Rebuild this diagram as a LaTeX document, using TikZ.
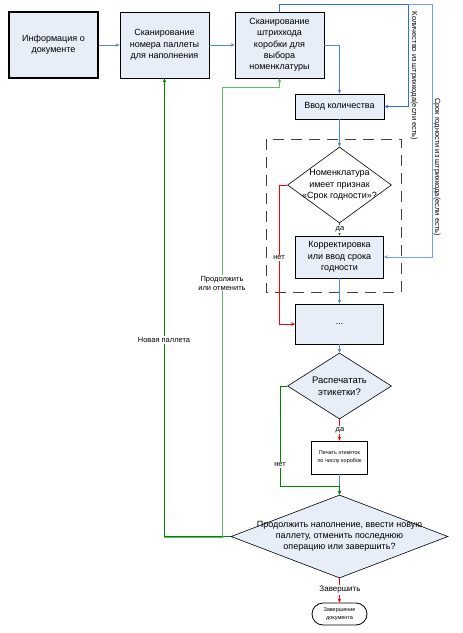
\documentclass[tikz,border=0pt]{standalone}
\usepackage{fontspec}
\setmainfont{Liberation Sans}
\usepackage{tikz}
\usetikzlibrary{arrows.meta, shapes.geometric, positioning}
\definecolor{boxfill}{RGB}{232,238,247}
\definecolor{linkblue}{RGB}{84,134,200}
\definecolor{qtyblue}{RGB}{51,102,255}
\definecolor{dateblue}{RGB}{110,160,255}
\definecolor{darkgreen}{RGB}{0,130,0}
\definecolor{lightgreen}{RGB}{100,185,100}
\newcommand{\boxfont}{\fontsize{9}{11.3}\selectfont}
\newcommand{\lblfont}{\fontsize{7.5}{9}\selectfont}
\newcommand{\tinyboxfont}{\fontsize{5.5}{7.8}\selectfont}
\tikzset{
    boxnode/.style = {draw, rectangle, fill=boxfill, inner sep=0em, node distance=0em, line width=0.8pt, font=\boxfont},
    decisionnode/.style = {draw, diamond, inner sep=0em, node distance=0em, line width=0.6pt},
    textnode/.style = {draw=none, fill=none, rectangle, inner sep=0em, font=\boxfont},
    lblnode/.style = {draw=none, fill=white, rectangle, inner sep=1pt, font=\lblfont},
    sidenode/.style = {draw=none, fill=none, rectangle, rotate=-90, inner sep=0em, font=\lblfont},
    endnode/.style = {draw, rectangle, rounded corners=11pt, fill=white, inner sep=0em, node distance=0em, line width=0.8pt, font=\tinyboxfont},
    groupframe/.style = {draw=black!75, line width=1pt, dash pattern=on 11pt off 7pt},
    connect/.style = {linkblue, line width=0.7pt, ->},
    yeslink/.style = {red, line width=0.7pt, ->},
    nolink/.style = {darkgreen, line width=0.7pt, ->},
    every text node part/.style={align=center}
}

\begin{document}
\begin{tikzpicture}[x=1pt, y=-1pt, >={Stealth[length=4pt,width=3.5pt]}]
    \useasboundingbox (0,0) rectangle (463,633);

    \draw [groupframe] (266,139) rectangle (401,292);

    \node [name=info, boxnode, line width=1.4pt, minimum width=89pt, minimum height=66pt] at (53.5,45) {Информация о\\документе};
    \node [name=pallet, boxnode, minimum width=89pt, minimum height=66pt,
        right of = info, xshift=111pt] {Сканирование\\номера паллеты\\для наполнения};
    \node [name=scan, boxnode, minimum width=89pt, minimum height=66pt,
        right of = pallet, xshift=115pt] {Сканирование\\штрихкода\\коробки для\\выбора\\номенклатуры};
    \node [name=qty, boxnode, minimum width=89pt, minimum height=25pt,
        below of = scan, xshift=60pt, yshift=-61.5pt] {Ввод количества};

    \node [name=nom, decisionnode, fill=white, minimum width=104pt, minimum height=76pt,
        below of = qty, yshift=-78.5pt] {};
    \node [name=nomtext, textnode] at (nom) {Номенклатура\\имеет признак\\«Срок годности»?};
    \node [name=correct, boxnode, minimum width=88pt, minimum height=42pt,
        below of = nom, yshift=-72pt] {Корректировка\\или ввод срока\\годности};
    \node [name=dots, boxnode, minimum width=88pt, minimum height=40pt,
        below of = correct, yshift=-67pt] {...};

    \node [name=print, decisionnode, fill=boxfill, minimum width=104pt, minimum height=66pt,
        below of = dots, yshift=-62pt] {};
    \node [name=printtext, textnode, font=\fontsize{9.5}{12}\selectfont] at (print) {Распечатать\\этикетки?};
    \node [name=labels, boxnode, fill=white, font=\tinyboxfont, minimum width=56pt, minimum height=33pt,
        below of = print, yshift=-71.5pt] {Печать этикеток\\по числу коробок};

    \node [name=final, decisionnode, fill=boxfill, minimum width=217pt, minimum height=83pt,
        below of = labels, yshift=-79pt] {};
    \node [name=finaltext, textnode] at (final) {Продолжить наполнение, ввести новую\\паллету, отменить последнюю\\операцию или завершить?};
    \node [name=finish, endnode, minimum width=55pt, minimum height=22pt,
        below of = final, yshift=-77.5pt] {Завершение\\документа};

    \coordinate (qtyline) at (408,4);
    \coordinate (dateline) at (432,4);
    \coordinate (noturn) at (279,185);
    \coordinate (printturn) at (280,486);
    \coordinate (newturn) at (164,537);
    \coordinate (contstart) at (222,537);
    \coordinate (contturn) at (222,87);

    \draw (info) edge[connect] (pallet);
    \draw (pallet) edge[connect] (scan);
    \draw [connect] (scan.east) -| (qty.north);
    \draw [qtyblue, line width=0.8pt, ->] (scan.north) |- (qtyline) |- (qty.east);
    \draw [dateblue, line width=0.8pt, ->] (qtyline) -- (dateline) |- (correct.east);
    \draw (qty) edge[connect] (nom);
    \draw (nom) edge[nolink] (correct);
    \draw [yeslink] (nom.west) -- (noturn) |- (dots.west);
    \draw (correct) edge[connect] (dots);
    \draw (dots) edge[connect] (print);
    \draw (print) edge[yeslink] (labels);
    \draw (labels) edge[connect] (final);
    \draw [nolink] (print.west) -| (printturn) -| (final.north);
    \draw (final) edge[yeslink] (finish);
    \draw [nolink] (final.west) -| (pallet.south);
    \draw [lightgreen, line width=0.8pt, ->] (newturn) -- (contstart) -- (contturn) -| (scan.south);

    \node [name=sideqty, sidenode] at (414,76) {Количество из штрихкода(если есть)};
    \node [name=sidedate, sidenode] at (437,167) {Срок годности из штрихкода(если есть)};
    \node [name=yesnom, lblnode] at (340,229) {да};
    \node [name=nonom, lblnode] at (279,258) {нет};
    \node [name=yesprint, lblnode] at (340,430) {да};
    \node [name=noprint, lblnode] at (280,465) {нет};
    \node [name=endlbl, lblnode, font=\fontsize{8}{9}\selectfont] at (340,590) {Завершить};
    \node [name=newlbl, lblnode] at (164,340) {Новая паллета};
    \node [name=contlbl, lblnode] at (222,283) {Продолжить\\или отменить};
\end{tikzpicture}
\end{document}
